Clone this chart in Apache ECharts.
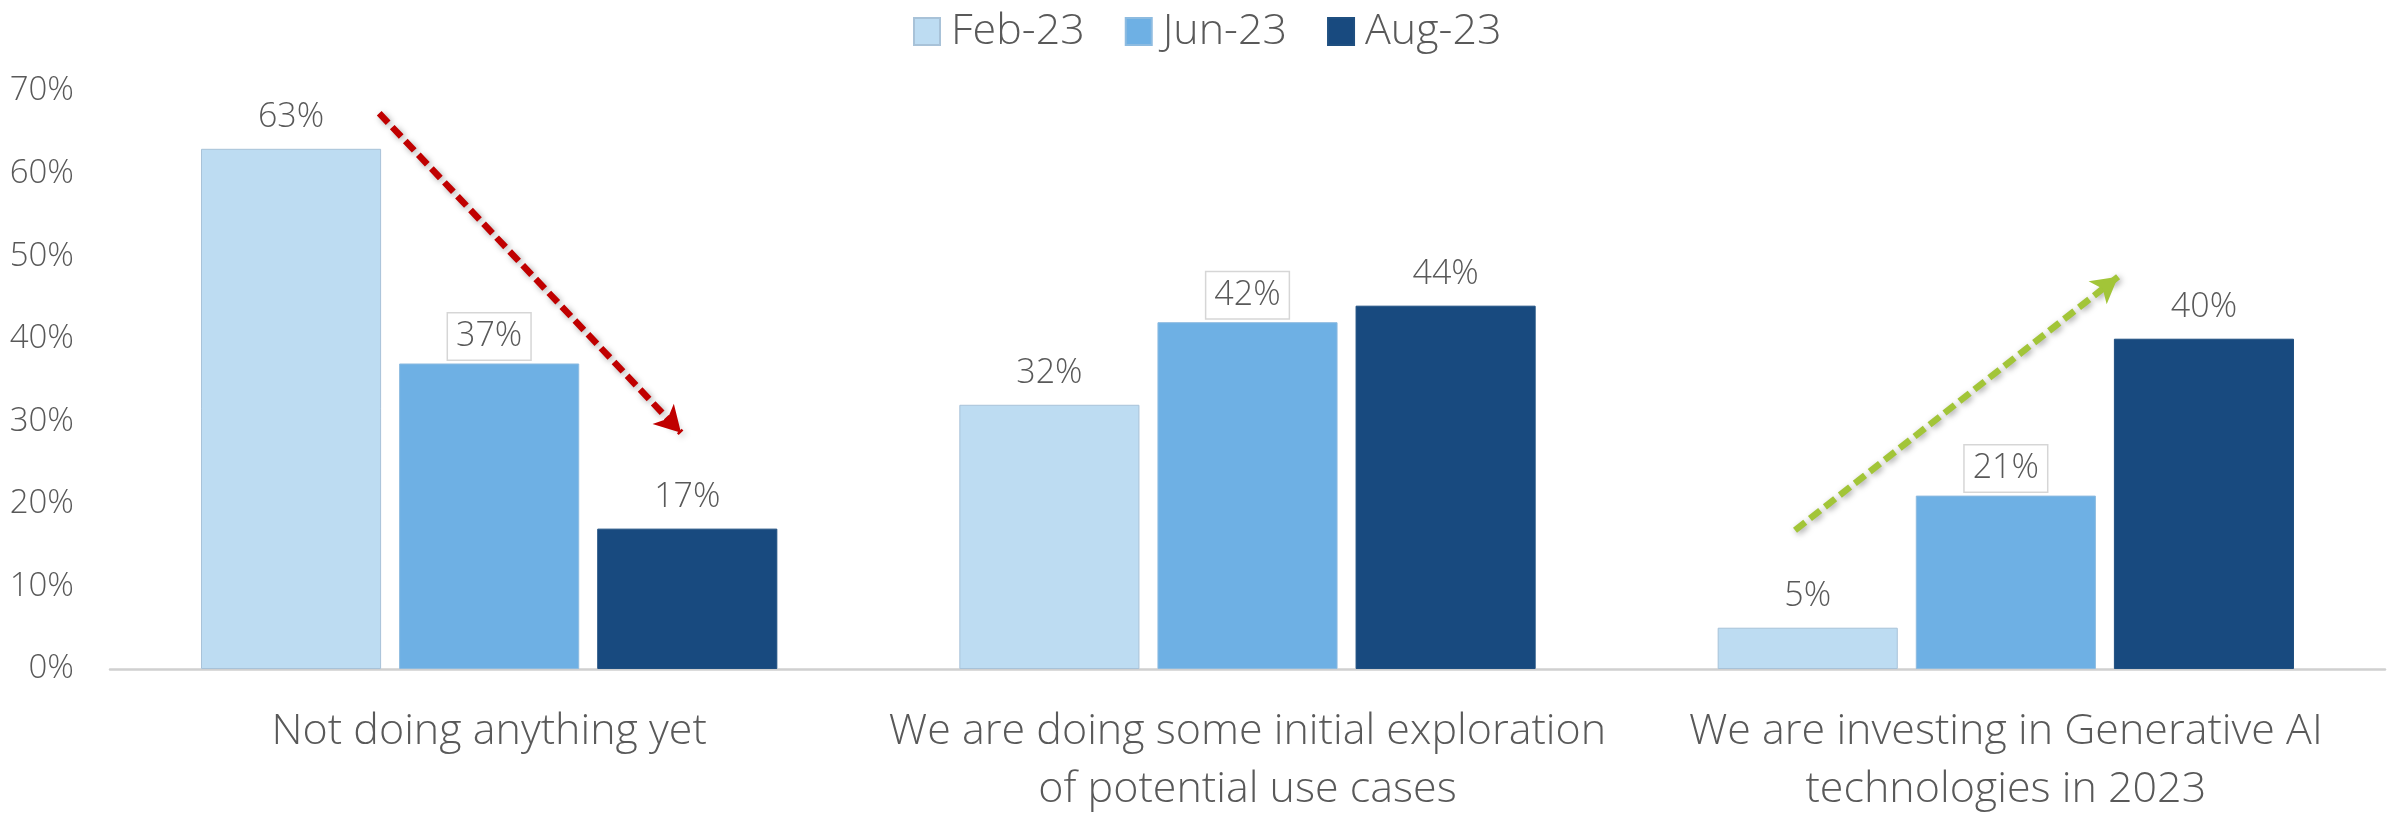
<!DOCTYPE html>
<html>
<head>
<meta charset="utf-8">
<script src="https://cdn.jsdelivr.net/npm/echarts@6/dist/echarts.min.js"></script>
<style>
html,body{margin:0;padding:0;background:#fff;}
#chart{width:2387px;height:819px;}
</style>
</head>
<body>
<div id="chart"></div>
<script>
// ---- data ----
const categories = [
  'Not doing anything yet',
  'We are doing some initial exploration\nof potential use cases',
  'We are investing in Generative AI\ntechnologies in 2023'
];
const seriesNames = ['Feb-23', 'Jun-23', 'Aug-23'];
const feb23 = [63, 32, 5];
const jun23 = [37, 42, 21];
const aug23 = [17, 44, 40];
const yTicks = [0, 10, 20, 30, 40, 50, 60, 70];
// trend arrows in data space: [x (category position 0..3), y (%)]
const redArrow = [[0.355, 67.3], [0.753, 28.6]];
const greenArrow = [[2.222, 16.8], [2.648, 47.5]];

const FONT = 'Open Sans';
const TXT = '#595959';
const colors = ['#BDDCF2', '#6EB0E4', '#184A7F'];
const borders = ['#A8C2D8', '#8DBBE0', '#1F4F80'];

function barSeries(name, data, idx) {
  const boxed = idx === 1;
  return {
    name: name,
    type: 'bar',
    data: data,
    barGap: '10%',
    barCategoryGap: '24%',
    itemStyle: { color: colors[idx], borderColor: borders[idx], borderWidth: 1 },
    label: {
      show: true,
      position: 'top',
      distance: boxed ? 4 : 14,
      formatter: '{c}%',
      fontFamily: FONT,
      fontWeight: 300,
      fontSize: 34,
      lineHeight: 34,
      color: TXT,
      borderColor: boxed ? '#D6D6D6' : 'transparent',
      borderWidth: boxed ? 1.5 : 0,
      padding: boxed ? [6, 8, 6, 8] : 0,
      backgroundColor: boxed ? '#fff' : 'transparent'
    },
    emphasis: { disabled: true }
  };
}

function arrowLine(pts, color) {
  return [{ coord: pts[0], lineStyle: { color: color } }, { coord: pts[1] }];
}

const chart = echarts.init(document.getElementById('chart'), null, { renderer: 'canvas' });
chart.setOption({
  animation: false,
  backgroundColor: '#fff',
  textStyle: { fontFamily: FONT },
  legend: {
    data: seriesNames,
    top: 5,
    left: 908,
    itemWidth: 26,
    itemHeight: 27,
    itemGap: 40,
    icon: 'rect',
    textStyle: { fontFamily: FONT, fontWeight: 300, fontSize: 43, color: TXT, padding: [0, 0, 0, 6] }
  },
  grid: { left: 110, right: 2, top: 91, bottom: 144, containLabel: false },
  xAxis: [{
    type: 'category',
    data: categories,
    axisLine: { show: true, lineStyle: { color: '#D0D0D0', width: 2.5 } },
    axisTick: { show: false },
    axisLabel: {
      fontFamily: FONT, fontWeight: 300, fontSize: 43, lineHeight: 58,
      color: TXT, margin: 34, interval: 0
    }
  }, {
    type: 'value', min: 0, max: 3, show: false
  }],
  yAxis: {
    type: 'value',
    min: yTicks[0],
    max: yTicks[yTicks.length - 1],
    interval: 10,
    axisLine: { show: false },
    axisTick: { show: false },
    splitLine: { show: false },
    axisLabel: {
      formatter: '{value}%',
      fontFamily: FONT, fontWeight: 300, fontSize: 33, color: TXT, margin: 36
    }
  },
  series: [
    barSeries(seriesNames[0], feb23, 0),
    barSeries(seriesNames[1], jun23, 1),
    barSeries(seriesNames[2], aug23, 2),
    {
      name: 'trend',
      type: 'line',
      xAxisIndex: 1,
      data: [],
      silent: true,
      markLine: {
        silent: true,
        symbol: ['none', 'arrow'],
        symbolSize: [22, 26],
        label: { show: false },
        emphasis: { disabled: true },
        lineStyle: {
          type: [13, 6], width: 6.5,
          shadowBlur: 6, shadowColor: 'rgba(0,0,0,0.35)', shadowOffsetX: 2, shadowOffsetY: 2
        },
        data: [
          arrowLine(redArrow, '#C00000'),
          arrowLine(greenArrow, '#A2C538')
        ]
      }
    }
  ]
});
</script>
</body>
</html>
